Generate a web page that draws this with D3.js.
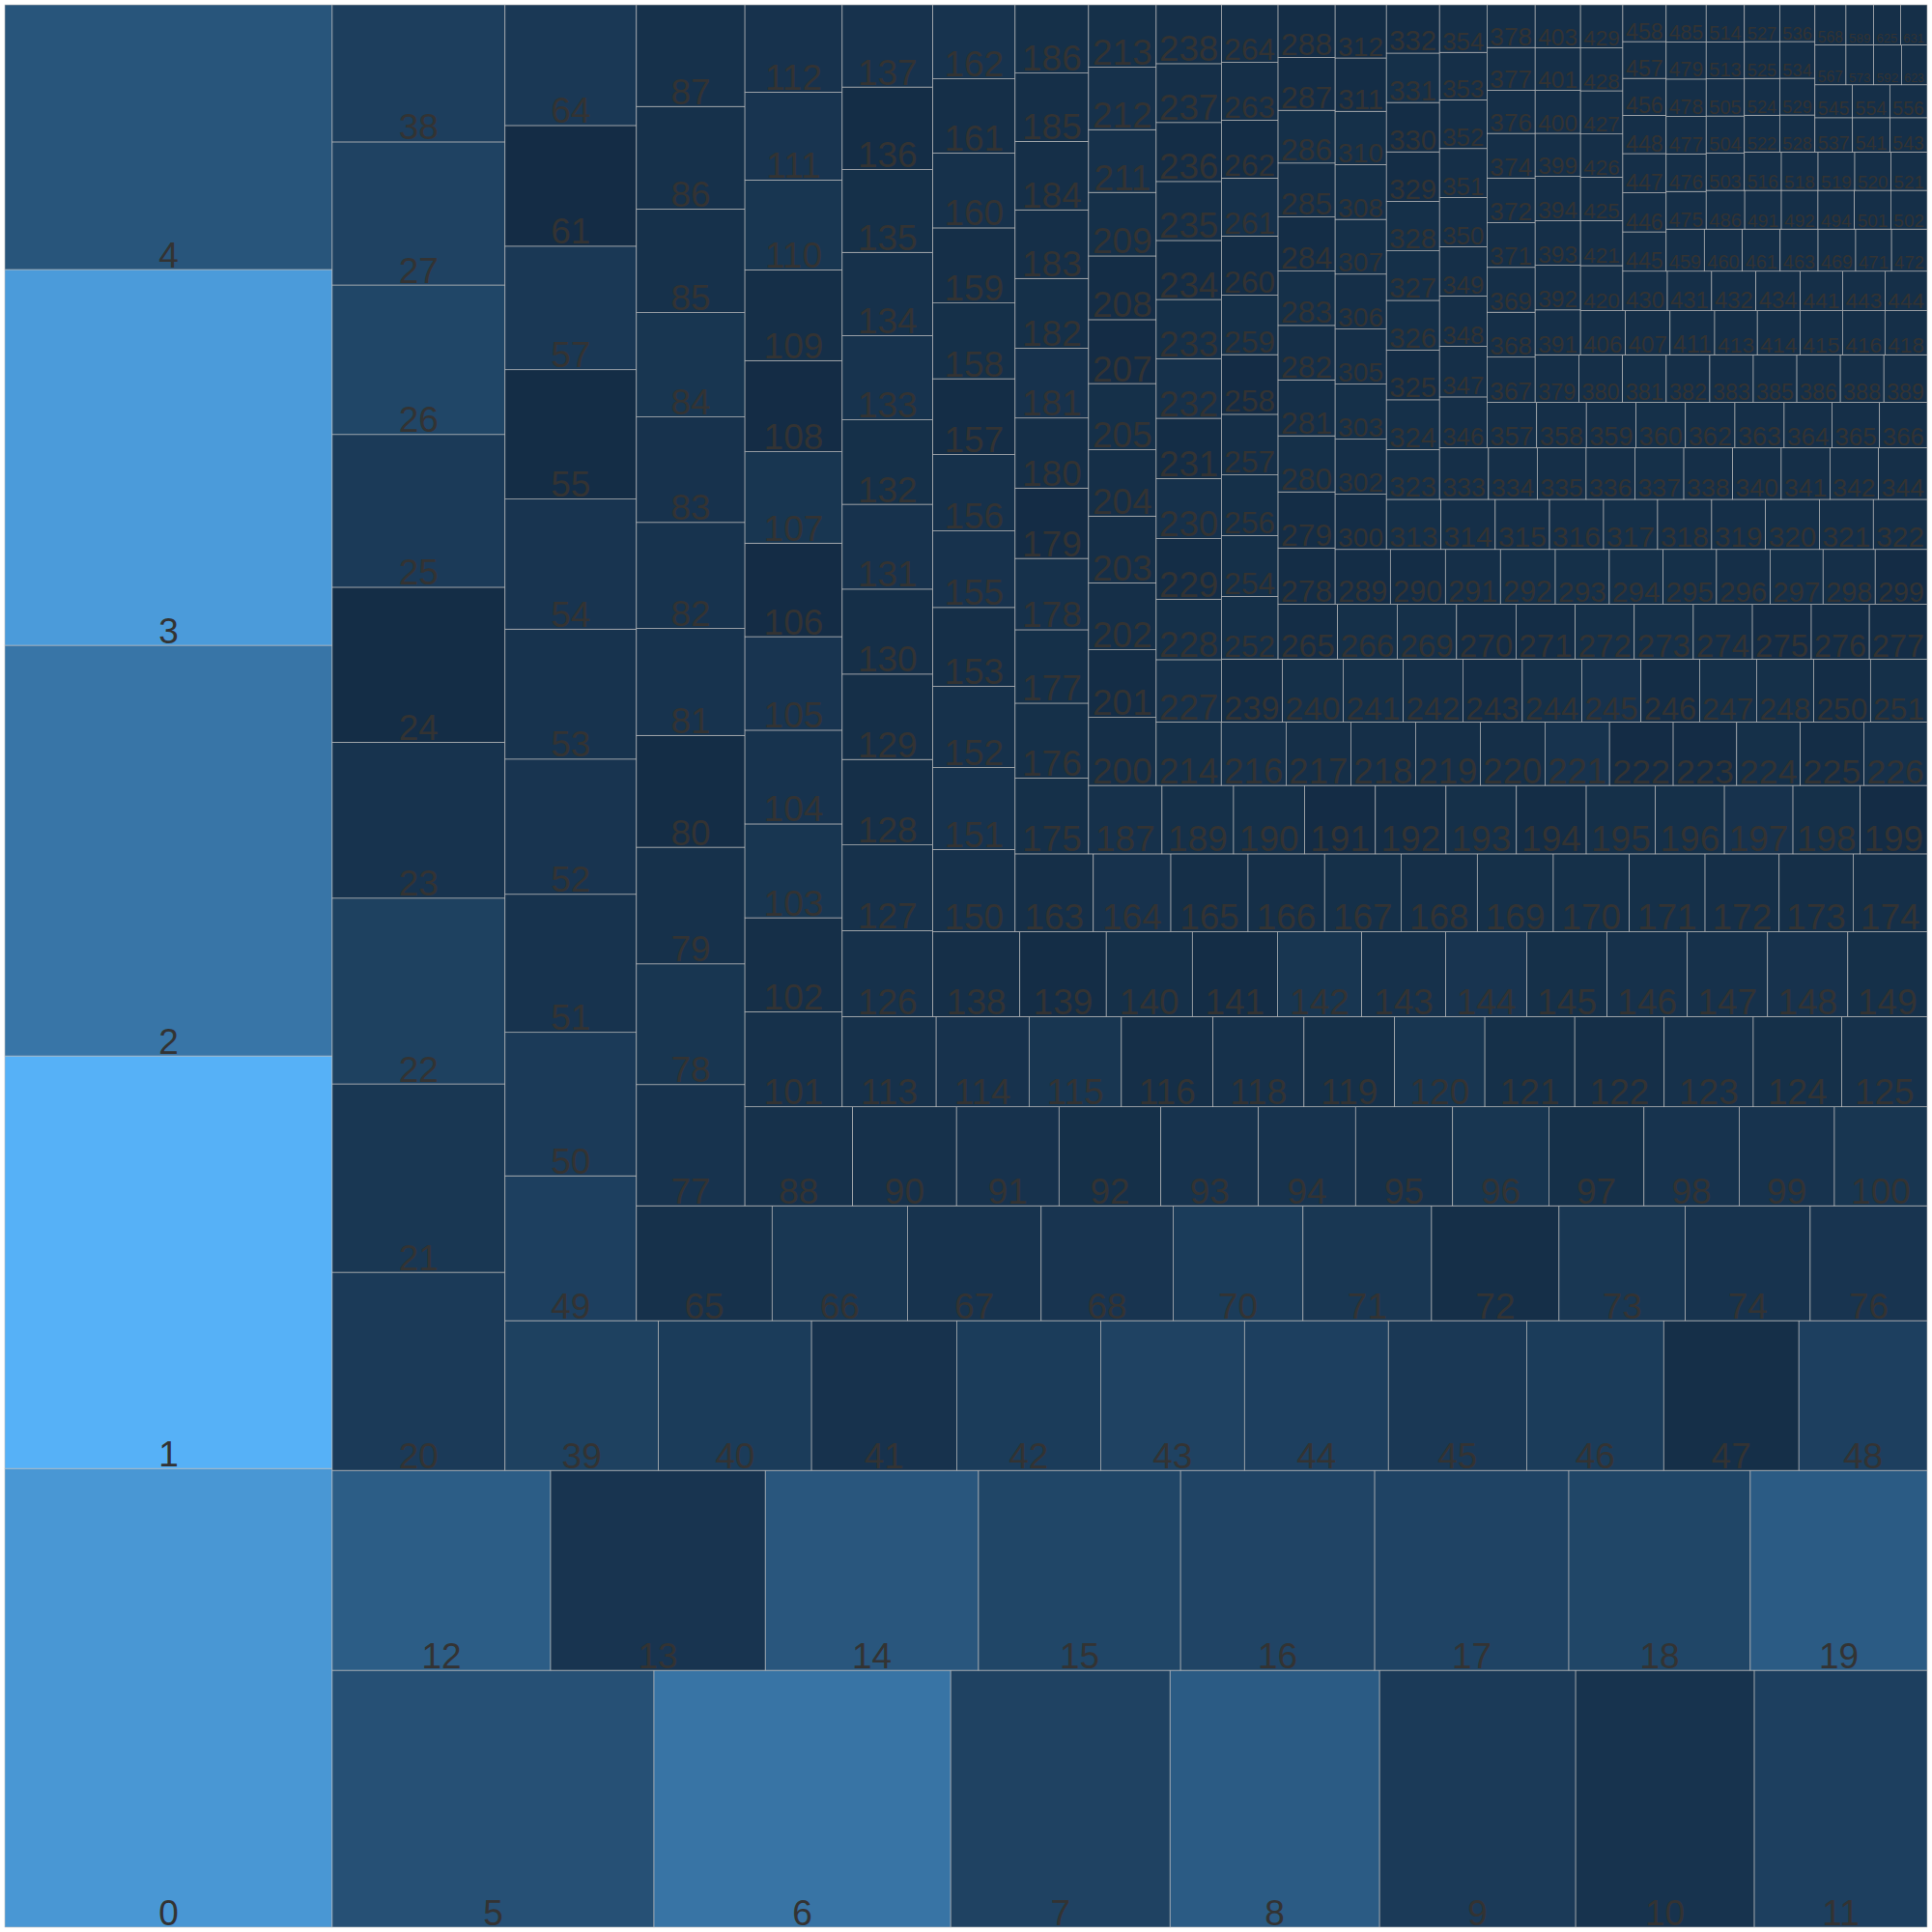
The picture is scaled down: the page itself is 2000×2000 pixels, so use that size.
<!DOCTYPE html>
<html>
<head>
<meta charset="utf-8">
<script src="https://cdn.jsdelivr.net/npm/d3@7/dist/d3.min.js"></script>
<style>
  body { margin: 0; background: #ffffff; }
</style>
</head>
<body>
<svg id="chart" width="2000" height="2000"></svg>
<script>
// tile labels, in the order the layout places them (largest first)
const ids = [
  0,1,2,3,4,
  5,6,7,8,9,10,11,
  12,13,14,15,16,17,18,19,
  20,21,22,23,24,25,26,27,38,
  39,40,41,42,43,44,45,46,47,48,
  49,50,51,52,53,54,55,57,61,64,
  65,66,67,68,70,71,72,73,74,76,
  77,78,79,80,81,82,83,84,85,86,87,
  88,90,91,92,93,94,95,96,97,98,99,100,
  101,102,103,104,105,106,107,108,109,110,111,112,
  113,114,115,116,118,119,120,121,122,123,124,125,
  126,127,128,129,130,131,132,133,134,135,136,137,
  138,139,140,141,142,143,144,145,146,147,148,149,
  150,151,152,153,155,156,157,158,159,160,161,162,
  163,164,165,166,167,168,169,170,171,172,173,174,
  175,176,177,178,179,180,181,182,183,184,185,186,
  187,189,190,191,192,193,194,195,196,197,198,199,
  200,201,202,203,204,205,207,208,209,211,212,213,
  214,216,217,218,219,220,221,222,223,224,225,226,
  227,228,229,230,231,232,233,234,235,236,237,238,
  239,240,241,242,243,244,245,246,247,248,250,251,
  252,254,256,257,258,259,260,261,262,263,264,
  265,266,269,270,271,272,273,274,275,276,277,
  278,279,280,281,282,283,284,285,286,287,288,
  289,290,291,292,293,294,295,296,297,298,299,
  300,302,303,305,306,307,308,310,311,312,
  313,314,315,316,317,318,319,320,321,322,
  323,324,325,326,327,328,329,330,331,332,
  333,334,335,336,337,338,340,341,342,344,
  346,347,348,349,350,351,352,353,354,
  357,358,359,360,362,363,364,365,366,
  367,368,369,371,372,374,376,377,378,
  379,380,381,382,383,385,386,388,389,
  391,392,393,394,399,400,401,403,
  406,407,411,413,414,415,416,418,
  420,421,425,426,427,428,429,
  430,431,432,434,441,443,444,
  445,446,447,448,456,457,458,
  459,460,461,463,469,471,472,
  475,476,477,478,479,485,
  486,491,492,494,501,502,
  503,504,505,513,514,
  516,518,519,520,521,
  522,524,525,527,
  528,529,534,536,
  537,541,543,
  545,554,556,
  567,568,
  573,589,
  592,623,
  625,631
];

// area variable
const sizes = [
  1610,1448,1441,1319,929,
  886,817,604,577,540,492,476,
  468,460,457,433,416,416,389,379,
  367,349,344,289,287,283,277,265,254,
  246,246,233,231,231,231,222,220,217,206,
  204,202,194.5,190.4,183.2,183.1,182.2,174,170,170,
  167.0,166.6,164.8,162.4,160,158.3,157,155.3,154,144,
  140.8,140.3,135.6,130,124.3,123.2,122.6,121.2,120.4,119.3,118.1,
  114.3,110.2,108.7,108.1,103.5,103,103,102,101,101,101,98.4,
  99.2,98.1,97.9,97.8,97.7,97.6,95.4,95.1,94.7,93.8,91.6,91.2,
  90.9,89.9,89.4,88.6,88.1,87.7,87.3,87.0,86.6,86.2,85.6,82.7,
  83.4,83.2,83.0,82.8,82.5,82.4,82.0,81.7,80.9,80.4,80.1,79.8,
  79.2,78.6,78.3,77.4,76.7,76.4,73.9,73.0,73.0,73.0,73.0,72.2,
  72.5,72.3,71.7,69.6,67.6,67.3,67.0,66.8,66.3,66.1,65.5,65.3,
  65.2,64.6,64.4,63.8,63.7,63.6,63.4,63.3,63.2,61.8,61.7,61.7,
  59.7,58.9,57.8,56.2,55.4,55.1,55.0,54.9,54.0,53.9,53.8,53.7,
  53.9,52.5,52.1,52.0,51.8,51.7,51.2,50.8,50.6,50.3,49.3,49.2,
  49.3,49.0,48.6,48.4,48.1,48.0,46.3,46.2,46.1,45.5,45.3,45.2,
  44.2,44.1,44.0,44.0,44.0,44.0,43.9,43.3,43.2,43.2,43.2,43.1,
  43.5,42.3,42.2,42.1,42.0,41.7,41.3,41.2,41.2,41.2,41.1,41.1,
  41.2,41.0,40.5,40.3,40.2,40.1,40.0,39.5,38.5,38.5,38.4,38.3,
  38.0,37.0,36.9,36.8,36.3,36.1,36.0,35.2,35.2,35.1,35.0,
  34.9,34.9,34.8,34.8,34.7,34.6,34.6,34.6,34.5,34.0,33.9,
  34.5,34.3,34.3,34.2,33.3,33.2,33.1,33.0,32.3,32.3,32.2,
  32.5,32.4,32.4,32.3,31.8,31.6,31.5,31.5,31.2,30.7,30.6,
  30.3,30.3,30.3,30.2,30.2,30.1,30.1,29.3,29.3,29.2,
  29.2,29.2,29.1,29.0,29.0,29.0,28.9,28.9,28.9,28.9,
  28.4,28.3,28.3,28.3,28.2,28.2,28.2,28.1,28.1,27.5,
  27.2,27.1,27.1,27.1,27.1,27.1,27.0,27.0,27.0,27.0,
  25.8,25.8,25.6,25.1,25.1,24.9,24.8,24.2,24.2,
  24.1,24.1,24.1,24.0,24.0,23.9,23.2,23.1,23.1,
  23.3,23.2,23.1,23.1,23.0,23.0,22.2,22.1,22.0,
  22.3,22.3,22.3,22.2,22.2,22.2,22.2,22.2,22.1,
  21.8,21.7,21.7,21.5,21.0,20.9,20.8,20.8,
  21.2,21.2,21.1,20.2,20.2,20.1,20.1,20.0,
  20.4,20.4,19.7,19.6,19.6,19.5,19.5,
  18.8,18.7,18.7,18.7,17.9,17.9,17.8,
  18.3,18.2,18.2,17.8,17.2,17.1,17.1,
  17.2,17.2,17.1,17.1,17.0,16.2,16.1,
  16.1,16.1,16.0,16.0,15.9,15.9,
  16.0,15.2,15.2,15.1,15.1,15.1,
  15.3,15.2,15.2,15.2,15.2,
  15.2,15.1,15.1,14.9,14.9,
  13.9,13.9,13.9,13.9,
  14.0,13.9,13.9,13.9,
  13.8,13.7,13.7,
  13.2,13.2,13.2,
  13.3,13.3,
  11.8,11.8,
  11.9,11.0,
  11.6,11.5
];

// fill variable (0 = darkest, 100 = lightest)
const fills = [
  82,100,58,85,34,
  30,57,19,39,13,7,17,
  40,8,35,22,21,20,22,39,
  13,10,18,7,2,13,22,19,16,
  18,14,6,14,19,17,11,14,3,17,
  17,13,7,8,7,8,2,11,1,11,
  5,10,7,8,14,10,3,10,7,8,
  7,9,5,2,7,7,6,9,5,5,5,
  5,5,6,4,7,7,5,9,4,7,7,9,
  5,3,9,7,8,1,9,1,3,9,8,6,
  5,6,9,3,5,4,9,4,3,5,4,5,
  5,5,3,3,3,6,4,7,5,4,2,6,
  3,2,4,2,9,5,8,4,5,5,6,4,
  5,7,5,3,6,5,2,4,3,5,3,7,
  3,6,3,3,4,3,4,4,4,3,3,3,
  4,4,4,5,1,3,6,4,3,3,3,4,
  5,4,4,1,2,4,2,4,4,6,4,1,
  3,2,3,3,3,4,1,2,4,5,5,4,
  4,5,3,3,3,3,7,1,1,4,2,5,
  5,4,2,5,2,5,4,2,3,2,3,3,
  2,4,4,3,2,4,6,2,4,4,2,4,
  4,4,4,3,1,4,2,5,2,3,3,
  2,4,4,2,2,4,4,3,1,2,2,
  2,2,4,3,3,4,2,3,4,2,2,
  2,2,3,4,4,4,4,3,4,3,1,
  2,3,4,3,3,4,4,4,2,2,
  4,3,3,3,4,3,3,4,3,3,
  4,4,2,4,4,4,2,2,4,2,
  3,3,3,3,4,3,3,3,3,3,
  3,3,3,3,3,3,3,3,3,
  3,3,3,4,3,3,3,3,3,
  3,3,3,3,3,3,3,3,3,
  3,3,4,3,3,3,3,3,3,
  3,3,3,3,3,3,3,3,
  3,3,3,3,3,3,3,3,
  3,3,3,3,3,3,3,
  3,3,3,3,3,3,3,
  3,3,3,3,3,3,3,
  3,3,3,3,3,3,3,
  3,3,3,3,3,3,
  3,3,3,3,3,3,
  3,3,3,3,3,
  3,3,3,3,3,
  3,3,3,3,
  3,3,3,3,
  3,3,3,
  3,3,3,
  3,3,
  3,3,
  3,3,
  3,3
];

const margin = 5,
    size = 2000 - 2 * margin,
    baseFont = 37;

let svg = d3.select("#chart");

let root = d3.hierarchy({children: ids.map((id, i) => ({id: id, size: sizes[i], fill: fills[i]}))})
    .sum(d => d.size || 0);

d3.treemap()
    .tile(d3.treemapSquarify.ratio(1))
    .size([size, size])
    (root);

let color = d3.scaleLinear()
    .domain([0, 100])
    .range(["#132B43", "#56B1F7"])
    .interpolate(d3.interpolateLab);

let g = svg.append("g").attr("transform", `translate(${margin},${margin})`);

// the layout starts from the bottom-left corner, so flip y
let cell = g.selectAll("g")
    .data(root.leaves())
    .enter()
    .append("g");

cell.append("rect")
    .attr("x", d => d.x0)
    .attr("y", d => size - d.y1)
    .attr("width", d => d.x1 - d.x0)
    .attr("height", d => d.y1 - d.y0)
    .attr("fill", d => color(d.data.fill))
    .attr("stroke", "#bebebe")
    .attr("stroke-width", 0.6);

cell.append("text")
    .attr("x", d => (d.x0 + d.x1) / 2)
    .attr("y", d => size - d.y0 - 2.5)
    .attr("text-anchor", "middle")
    .attr("font-family", "'Liberation Sans', Arial, sans-serif")
    .attr("font-size", baseFont)
    .attr("fill", "#333333")
    .text(d => d.data.id)
    .each(function(d) {
        // shrink labels that do not fit their tile
        let tw = this.getComputedTextLength();
        let bw = d.x1 - d.x0 - 6,
            bh = d.y1 - d.y0 - 6;
        let k = Math.min(1, bw / tw, bh / (baseFont * 0.75));
        d3.select(this).attr("font-size", baseFont * k);
    });
</script>
</body>
</html>
